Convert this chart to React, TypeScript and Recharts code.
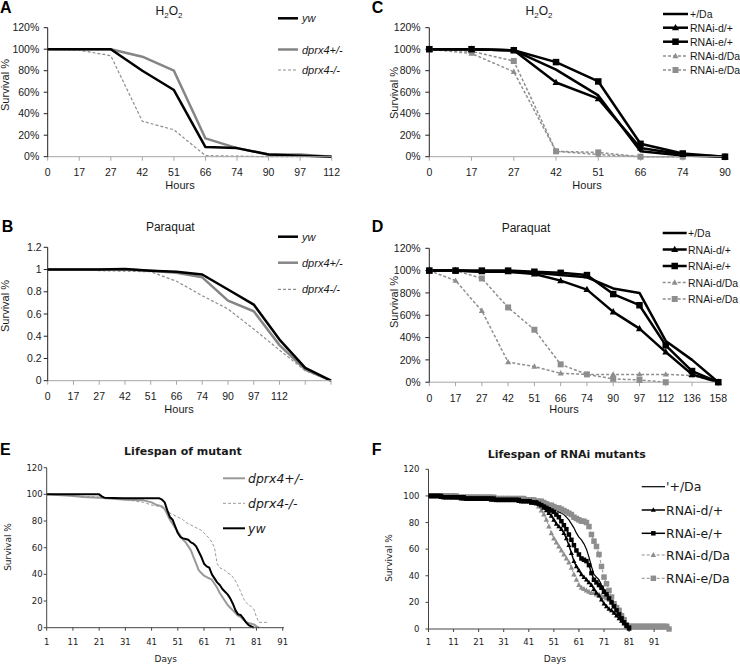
import React from 'react';
import { LineChart, Line, XAxis, YAxis } from 'recharts';

const FONT = '"Liberation Sans", Arial, sans-serif';
const FONT2 = '"DejaVu Sans", Verdana, sans-serif';

// ---------- Panel A (H2O2, mutants) ----------
const hoursA = ['0', '17', '27', '42', '51', '66', '74', '90', '97', '112'];
const aYw = [100, 100, 100, 80, 62, 9, 8, 2, 1, 0];
const aHet = [100, 100, 100, 93, 80, 17, 8, 2, 2, 0];
const aHom = [100, 99, 94, 33, 25, 1, 0.5, 0, 0, 0];

// ---------- Panel B (Paraquat, mutants) ----------
const hoursB = ['0', '17', '27', '42', '51', '66', '74', '90', '97', '112', '', ''];
const bYw = [1, 1, 1, 1.005, 0.99, 0.98, 0.955, 0.82, 0.685, 0.37, 0.115, 0];
const bHet = [1, 1, 1, 1, 0.99, 0.97, 0.93, 0.72, 0.625, 0.32, 0.1, 0];
const bHom = [1, 1, 0.99, 0.985, 0.98, 0.895, 0.765, 0.645, 0.465, 0.275, 0.09, 0];
const bTicks = [0, 0.2, 0.4, 0.6, 0.8, 1, 1.2];
const bTickLabels = ['0', '0.2', '0.4', '0.6', '0.8', '1', '1.2'];

// ---------- Panel C (H2O2, RNAi) ----------
const hoursC = ['0', '17', '27', '42', '51', '66', '74', '90'];
const cPlusDa = [100, 100, 99, 81, 57, 5, 1, 0];
const cDPlus = [100, 100, 99, 69, 54, 8, 2, 0];
const cEPlus = [100, 100, 99, 88, 70, 12, 3, 0];
const cDDa = [100, 96, 79, 5, 2, 0, 0, null];
const cEDa = [100, 98, 89, 5, 4, 0, 0, null];

// ---------- Panel D (Paraquat, RNAi) ----------
const hoursD = ['0', '17', '27', '42', '51', '66', '74', '90', '97', '112', '136', '158'];
const dPlusDa = [100, 100, 99, 99, 98, 96, 94, 84, 80, 37, 20, 0];
const dDPlus = [100, 100, 99, 99, 97, 91, 83, 63, 48, 27, 7, 0];
const dEPlus = [100, 100, 100, 100, 99, 98, 96, 79, 69, 33, 10, 0];
const dDDa = [100, 91, 64, 18, 14, 8, 7, 7, 7, 7, 6, 0];
const dEDa = [100, 100, 93, 67, 47, 16, 7, 3, 2, 0, null, null];

const pctTicks = [0, 20, 40, 60, 80, 100, 120];
const pctTickLabels = ['0%', '20%', '40%', '60%', '80%', '100%', '120%'];

// ---------- Panel E (lifespan of mutant) ----------
const eYwDays = [1, 21, 22, 23, 30, 44, 45, 46, 47, 48, 49, 50, 51, 52, 53, 54, 55, 56, 57, 58, 59, 60, 61, 62, 63, 64, 65, 66, 67, 68, 69, 70, 71, 72, 73, 74, 75, 76, 77, 78, 79, 80];
const eYwVals = [100, 100, 98.5, 97.5, 97, 97, 96, 94, 88, 83, 81, 76, 71, 68, 67, 66.5, 66, 64, 63, 61, 57, 53, 48, 46, 45, 40, 37, 34, 32, 29, 27, 25, 22, 18, 13, 10, 9.5, 7, 4, 2, 1, 0];
const eHetDays = [1, 5, 10, 15, 21, 31, 38, 41, 43, 45, 46, 47, 48, 49, 50, 51, 52, 53, 54, 55, 56, 57, 58, 59, 60, 61, 62, 63, 64, 65, 66, 67, 68, 69, 70, 71, 72, 73, 74, 75, 76, 77, 78, 79, 80, 81, 82];
const eHetVals = [100, 99.5, 99, 98, 97.5, 96, 95.5, 94, 92, 91, 89, 85, 81, 78, 75, 72, 69, 66, 64, 61, 58, 53, 48, 43, 41, 39, 38, 37, 36, 33, 30, 26, 23, 20, 17, 15, 13, 11, 9, 8, 6, 4.5, 3.5, 3, 2.5, 1, 0];
const eHomDays = [1, 10, 21, 31, 38, 41, 44, 45, 46, 47, 48, 49, 50, 51, 52, 53, 54, 55, 56, 57, 58, 59, 60, 61, 62, 63, 64, 65, 66, 67, 68, 69, 70, 71, 72, 73, 74, 75, 76, 77, 78, 79, 80, 81, 82, 85];
const eHomVals = [100, 99, 98, 96, 94, 92, 91, 90, 88, 87, 86, 85, 84, 83, 82, 81, 79, 78, 77, 76, 75, 74, 73, 71, 69, 67, 64, 60, 48, 45, 44, 43, 41, 40, 38, 35, 31, 27, 22, 19, 17, 16, 14, 8, 4, 4];
const dayTicks = [1, 11, 21, 31, 41, 51, 61, 71, 81, 91];

// ---------- Panel F (lifespan of RNAi mutants), one value per day from day 1 ----------
const fPlusDa = [100, 100, 100, 100, 100, 100, 100, 99, 99, 99,
  99, 99, 99, 99, 99, 99, 98, 98, 98, 98,
  98, 98, 98, 98, 98, 98, 98, 98, 98, 97,
  97, 97, 97, 97, 97, 97, 97, 97, 97, 96,
  96, 96, 95, 95, 95, 94, 93, 93, 92, 91,
  90, 89, 88, 87, 86, 84, 82, 79, 76, 72,
  69, 67, 64, 60, 54, 47, 41, 39, 37, 33,
  30, 27, 25, 22, 19, 16, 13, 9, 6, 3,
  1, 1, 1, 1, 1, 1, 1, 1, 1, 1,
  1, 1, 1, 1, 1, 1, 1];
const fDPlus = [100, 100, 100, 100, 100, 99, 99, 99, 99, 99,
  99, 99, 99, 98, 98, 98, 98, 98, 98, 98,
  98, 98, 98, 98, 98, 97, 97, 97, 97, 97,
  97, 97, 97, 97, 97, 97, 96, 96, 96, 96,
  96, 96, 95, 95, 94, 93, 91, 89, 87, 85,
  82, 79, 77, 75, 72, 68, 63, 57, 51, 47,
  44, 41, 39, 37, 35, 33, 30, 27, 25, 22,
  19, 17, 15, 14, 12, 10, 8, 6, 4, 2,
  0];
const fEPlus = [100, 100, 100, 100, 100, 100, 99, 99, 99, 99,
  99, 99, 99, 99, 99, 98, 98, 98, 98, 98,
  98, 98, 98, 98, 98, 98, 98, 97, 97, 97,
  97, 97, 97, 97, 97, 97, 97, 96, 96, 96,
  96, 95, 95, 95, 94, 93, 92, 91, 90, 89,
  88, 86, 84, 81, 78, 75, 71, 67, 63, 59,
  56, 53, 52, 51, 48, 42, 37, 35, 33, 31,
  28, 26, 23, 20, 17, 14, 11, 8, 5, 3,
  1];
const fDDa = [100, 100, 100, 100, 100, 100, 100, 100, 100, 99,
  99, 99, 99, 99, 99, 99, 99, 99, 99, 99,
  98, 98, 98, 98, 98, 98, 98, 98, 98, 98,
  98, 98, 98, 97, 97, 97, 97, 97, 97, 97,
  96, 96, 95, 94, 92, 89, 86, 82, 77, 72,
  68, 65, 62, 59, 56, 53, 50, 46, 41, 37,
  33, 31, 30, 29, 28, 27, 27, 26, 26, 25,
  24, 23, 22, 20, 18, 17, 14, 11, 7, 3,
  1];
const fEDa = [100, 100, 100, 100, 100, 100, 100, 100, 100, 100,
  100, 100, 99, 99, 99, 99, 99, 99, 99, 99,
  99, 99, 99, 99, 99, 99, 99, 98, 98, 98,
  98, 98, 98, 98, 98, 98, 98, 98, 98, 97,
  97, 97, 97, 96, 96, 96, 95, 94, 93, 93,
  92, 91, 91, 90, 89, 88, 87, 86, 84, 83,
  82, 81, 81, 80, 77, 71, 66, 62, 56, 47,
  39, 34, 29, 24, 19, 16, 14, 10, 7, 3,
  2, 2, 2, 2, 2, 2, 2, 2, 2, 2,
  2, 2, 2, 2, 2, 2, 0];
const fDays = fEDa.map((_, i) => i + 1);

// ---------- tables built from the arrays ----------
const dataA = hoursA.map((h, i) => ({ h, yw: aYw[i], het: aHet[i], hom: aHom[i] }));
const dataB = hoursB.map((h, i) => ({ h, yw: bYw[i], het: bHet[i], hom: bHom[i] }));
const dataC = hoursC.map((h, i) => ({ h, plus: cPlusDa[i], dplus: cDPlus[i], eplus: cEPlus[i], dda: cDDa[i], eda: cEDa[i] }));
const dataD = hoursD.map((h, i) => ({ h, plus: dPlusDa[i], dplus: dDPlus[i], eplus: dEPlus[i], dda: dDDa[i], eda: dEDa[i] }));
const pairs = (ds: number[], vs: number[]) => ds.map((d, i) => ({ d, v: vs[i] }));
const dataF = fDays.map((d, i) => ({
  d,
  plus: fPlusDa[i] ?? null,
  dplus: fDPlus[i] ?? null,
  eplus: fEPlus[i] ?? null,
  dda: fDDa[i] ?? null,
  eda: fEDa[i] ?? null,
}));

// ---------- styling helpers ----------
const GRAY = '#858585';
const GRAY2 = '#8e8e8e';

type Shape = 'tri' | 'sq';
const dotFn = (shape: Shape, s: number, fill: string) => (p: any) => {
  const { cx, cy, index } = p;
  const k = `${shape}-${s}-${index}`;
  if (cx == null || cy == null || !isFinite(cx) || !isFinite(cy)) return <g key={k} />;
  if (shape === 'sq') return <rect key={k} x={cx - s / 2} y={cy - s / 2} width={s} height={s} fill={fill} />;
  const h = s * 0.9;
  return <path key={k} d={`M${cx},${cy - h * 0.6}L${cx + s / 2},${cy + h * 0.4}L${cx - s / 2},${cy + h * 0.4}Z`} fill={fill} />;
};

const frame = (L: number, T: number, W: number, H: number, x0: number, x1: number, y0: number, y1: number, xh: number) => ({
  margin: { top: y0 - T, right: L + W - x1, bottom: T + H - y1 - xh, left: 0 },
  yw: x0 - L,
});

const tickA = { fontSize: 10.5, fill: '#1a1a1a', fontFamily: FONT };
const tickE = { fontSize: 8.5, fill: '#1a1a1a', fontFamily: FONT2 };

const fA = frame(0, 0, 370, 200, 47.7, 331.7, 27.7, 156.7, 30);
const fB = frame(0, 200, 370, 220, 47.7, 331, 247.3, 380.7, 30);
const fC = frame(370, 0, 370, 200, 429.3, 725, 27.7, 156.7, 30);
const fD = frame(370, 200, 370, 220, 429.3, 718.3, 248.3, 382.2, 30);
const fE = frame(0, 440, 370, 225, 46.7, 284, 467.7, 627.7, 25);
const fF = frame(370, 440, 370, 225, 428.5, 671.7, 469.3, 629, 25);

const pos = (L: number, T: number): React.CSSProperties => ({ position: 'absolute', left: L, top: T });

// ---------- overlay (titles, legends, labels) ----------
function LegRow(props: { x1: number; x2: number; y: number; stroke: string; w: number; dash?: string; shape?: Shape; ms?: number; mfill?: string; label: string; tx: number; font: string; size: number; italic?: boolean; }) {
  const { x1, x2, y, stroke, w, dash, shape, ms, mfill, label, tx, font, size, italic } = props;
  const cx = (x1 + x2) / 2;
  const d = shape ? dotFn(shape, ms || 6, mfill || stroke)({ cx, cy: y, index: 0 }) : null;
  return (
    <g>
      <line x1={x1} x2={x2} y1={y} y2={y} stroke={stroke} strokeWidth={w} strokeDasharray={dash} />
      {d}
      <text x={tx} y={y} dominantBaseline="central" fontFamily={font} fontSize={size} fontStyle={italic ? 'italic' : 'normal'} fill="#1a1a1a">{label}</text>
    </g>
  );
}

function H2O2({ x, y }: { x: number; y: number }) {
  return (
    <text x={x} y={y} textAnchor="middle" fontFamily={FONT} fontSize={12} fill="#1a1a1a">
      <tspan>H</tspan><tspan fontSize={8} dy={3}>2</tspan><tspan dy={-3}>O</tspan><tspan fontSize={8} dy={3}>2</tspan>
    </text>
  );
}

function Overlay() {
  const letter = { fontFamily: FONT, fontSize: 16, fontWeight: 700, fill: '#000' } as const;
  const lab = { fontFamily: FONT, fontSize: 11, fill: '#1a1a1a' } as const;
  const lab2 = { fontFamily: FONT2, fontSize: 9, fill: '#1a1a1a' } as const;
  return (
    <svg width={740} height={665} style={{ position: 'absolute', left: 0, top: 0, pointerEvents: 'none' }}>
      <text x={0} y={13.3} {...letter}>A</text>
      <text x={371.7} y={12.7} {...letter}>C</text>
      <text x={1.7} y={231.7} {...letter}>B</text>
      <text x={371.7} y={232.3} {...letter}>D</text>
      <text x={0} y={455} {...letter}>E</text>
      <text x={371.7} y={455} {...letter}>F</text>

      <H2O2 x={169} y={14.8} />
      <H2O2 x={539} y={14.8} />
      <text x={170.3} y={231} textAnchor="middle" fontFamily={FONT} fontSize={12} fill="#1a1a1a">Paraquat</text>
      <text x={526} y={232} textAnchor="middle" fontFamily={FONT} fontSize={12} fill="#1a1a1a">Paraquat</text>
      <text x={183} y={455} textAnchor="middle" fontFamily={FONT2} fontSize={11} fontWeight={700} fill="#1a1a1a">Lifespan of mutant</text>
      <text x={566.7} y={458} textAnchor="middle" fontFamily={FONT2} fontSize={11} fontWeight={700} fill="#1a1a1a">Lifespan of RNAi mutants</text>

      <text x={180} y={189} textAnchor="middle" {...lab}>Hours</text>
      <text x={587} y={189} textAnchor="middle" {...lab}>Hours</text>
      <text x={179} y={413} textAnchor="middle" {...lab}>Hours</text>
      <text x={564} y={413} textAnchor="middle" {...lab}>Hours</text>
      <text x={165.7} y={662} textAnchor="middle" {...lab2}>Days</text>
      <text x={555} y={662} textAnchor="middle" {...lab2}>Days</text>

      <text transform="translate(9,85) rotate(-90)" textAnchor="middle" {...lab}>Survival %</text>
      <text transform="translate(9,306) rotate(-90)" textAnchor="middle" {...lab}>Survival %</text>
      <text transform="translate(398,93) rotate(-90)" textAnchor="middle" {...lab}>Survival %</text>
      <text transform="translate(398,302) rotate(-90)" textAnchor="middle" {...lab}>Survival %</text>
      <text transform="translate(10.5,547) rotate(-90)" textAnchor="middle" {...lab2}>Survival %</text>
      <text transform="translate(392,558) rotate(-90)" textAnchor="middle" {...lab2}>Survival %</text>

      {/* legend A */}
      <LegRow x1={278} x2={298} y={18.3} stroke="#000" w={2.5} label="yw" tx={302} font={FONT} size={11} italic />
      <LegRow x1={278} x2={298} y={49.5} stroke={GRAY} w={2.5} label="dprx4+/-" tx={302} font={FONT} size={11} italic />
      <LegRow x1={278} x2={298} y={70} stroke={GRAY2} w={1.2} dash="3 2" label="dprx4-/-" tx={302} font={FONT} size={11} italic />
      {/* legend B */}
      <LegRow x1={278} x2={298} y={236.7} stroke="#000" w={2.5} label="yw" tx={302} font={FONT} size={11} italic />
      <LegRow x1={278} x2={298} y={262.7} stroke={GRAY} w={2.5} label="dprx4+/-" tx={302} font={FONT} size={11} italic />
      <LegRow x1={278} x2={298} y={289.3} stroke={GRAY2} w={1.2} dash="3 2" label="dprx4-/-" tx={302} font={FONT} size={11} italic />
      {/* legend C */}
      <LegRow x1={663} x2={688} y={14} stroke="#000" w={2.5} label="+/Da" tx={690} font={FONT} size={10.5} />
      <LegRow x1={663} x2={688} y={27.7} stroke="#000" w={2.5} shape="tri" ms={7} label="RNAi-d/+" tx={690} font={FONT} size={10.5} />
      <LegRow x1={663} x2={688} y={41.7} stroke="#000" w={2.5} shape="sq" ms={6.5} label="RNAi-e/+" tx={690} font={FONT} size={10.5} />
      <LegRow x1={663} x2={688} y={56} stroke={GRAY2} w={1.5} dash="3 2" shape="tri" ms={6} label="RNAi-d/Da" tx={690} font={FONT} size={10.5} />
      <LegRow x1={663} x2={688} y={70} stroke={GRAY2} w={1.5} dash="3 2" shape="sq" ms={6} label="RNAi-e/Da" tx={690} font={FONT} size={10.5} />
      {/* legend D */}
      <LegRow x1={662.7} x2={686.7} y={233} stroke="#000" w={2.5} label="+/Da" tx={688} font={FONT} size={10.5} />
      <LegRow x1={662.7} x2={686.7} y={249.5} stroke="#000" w={2.5} shape="tri" ms={7} label="RNAi-d/+" tx={688} font={FONT} size={10.5} />
      <LegRow x1={662.7} x2={686.7} y={266} stroke="#000" w={2.5} shape="sq" ms={6.5} label="RNAi-e/+" tx={688} font={FONT} size={10.5} />
      <LegRow x1={662.7} x2={686.7} y={282.5} stroke={GRAY2} w={1.5} dash="3 2" shape="tri" ms={6} label="RNAi-d/Da" tx={688} font={FONT} size={10.5} />
      <LegRow x1={662.7} x2={686.7} y={299} stroke={GRAY2} w={1.5} dash="3 2" shape="sq" ms={6} label="RNAi-e/Da" tx={688} font={FONT} size={10.5} />
      {/* legend E */}
      <LegRow x1={223} x2={245} y={478.3} stroke="#999" w={2} label="dprx4+/-" tx={248} font={FONT2} size={12.5} italic />
      <LegRow x1={223} x2={245} y={503.3} stroke="#999" w={1} dash="3 2" label="dprx4-/-" tx={248} font={FONT2} size={12.5} italic />
      <LegRow x1={223} x2={245} y={528.3} stroke="#000" w={2} label="yw" tx={248} font={FONT2} size={12.5} italic />
      {/* legend F */}
      <LegRow x1={641.7} x2={665} y={486.7} stroke="#000" w={1.2} label="'+/Da" tx={666} font={FONT2} size={12.5} />
      <LegRow x1={641.7} x2={665} y={510} stroke="#000" w={1.5} shape="tri" ms={5} label="RNAi-d/+" tx={666} font={FONT2} size={12.5} />
      <LegRow x1={641.7} x2={665} y={533.3} stroke="#000" w={1.5} shape="sq" ms={4.5} label="RNAi-e/+" tx={666} font={FONT2} size={12.5} />
      <LegRow x1={641.7} x2={665} y={555} stroke={GRAY2} w={1} dash="3 2" shape="tri" ms={5.5} label="RNAi-d/Da" tx={666} font={FONT2} size={12.5} />
      <LegRow x1={641.7} x2={665} y={578.3} stroke={GRAY2} w={1} dash="3 2" shape="sq" ms={5.5} label="RNAi-e/Da" tx={666} font={FONT2} size={12.5} />
    </svg>
  );
}

export default function App() {
  const common = { isAnimationActive: false, strokeLinejoin: 'round' as const, activeDot: false as const };
  return (
    <div style={{ position: 'absolute', left: 0, top: 0, width: 740, height: 665, background: '#fff', overflow: 'hidden' }}>
      {/* A */}
      <div style={pos(0, 0)}>
        <LineChart width={370} height={200} data={dataA} margin={fA.margin}>
          <XAxis dataKey="h" interval={0} height={30} tickSize={4} tickMargin={8} tick={tickA} axisLine={{ stroke: '#a6a6a6' }} tickLine={{ stroke: '#a6a6a6' }} />
          <YAxis width={fA.yw} domain={[0, 120]} ticks={pctTicks} interval={0} tickFormatter={(v: number, i: number) => pctTickLabels[i]} tickSize={4} tickMargin={4.4} tick={tickA} axisLine={{ stroke: '#222' }} tickLine={{ stroke: '#222' }} />
          <Line dataKey="hom" stroke={GRAY2} strokeWidth={1.2} strokeDasharray="3 2" dot={false} {...common} />
          <Line dataKey="het" stroke={GRAY} strokeWidth={2.5} dot={false} {...common} />
          <Line dataKey="yw" stroke="#000" strokeWidth={2.5} dot={false} {...common} />
        </LineChart>
      </div>
      {/* B */}
      <div style={pos(0, 200)}>
        <LineChart width={370} height={220} data={dataB} margin={fB.margin}>
          <XAxis dataKey="h" interval={0} height={30} tickSize={4} tickMargin={8} tick={tickA} axisLine={{ stroke: '#a6a6a6' }} tickLine={{ stroke: '#a6a6a6' }} />
          <YAxis width={fB.yw} domain={[0, 1.2]} ticks={bTicks} interval={0} tickFormatter={(v: number, i: number) => bTickLabels[i]} tickSize={4} tickMargin={2} tick={tickA} axisLine={{ stroke: '#222' }} tickLine={{ stroke: '#222' }} />
          <Line dataKey="hom" stroke={GRAY2} strokeWidth={1.2} strokeDasharray="3 2" dot={false} {...common} />
          <Line dataKey="het" stroke={GRAY} strokeWidth={2.5} dot={false} {...common} />
          <Line dataKey="yw" stroke="#000" strokeWidth={2.5} dot={false} {...common} />
        </LineChart>
      </div>
      {/* C */}
      <div style={pos(370, 0)}>
        <LineChart width={370} height={200} data={dataC} margin={fC.margin}>
          <XAxis dataKey="h" interval={0} height={30} tickSize={4} tickMargin={8} tick={tickA} axisLine={{ stroke: '#a6a6a6' }} tickLine={{ stroke: '#a6a6a6' }} />
          <YAxis width={fC.yw} domain={[0, 120]} ticks={pctTicks} interval={0} tickFormatter={(v: number, i: number) => pctTickLabels[i]} tickSize={4} tickMargin={4.6} tick={tickA} axisLine={{ stroke: '#222' }} tickLine={{ stroke: '#222' }} />
          <Line dataKey="dda" stroke={GRAY2} strokeWidth={1.5} strokeDasharray="3 2" dot={dotFn('tri', 6, GRAY2)} {...common} />
          <Line dataKey="eda" stroke={GRAY2} strokeWidth={1.5} strokeDasharray="3 2" dot={dotFn('sq', 6, GRAY2)} {...common} />
          <Line dataKey="plus" stroke="#000" strokeWidth={2.5} dot={false} {...common} />
          <Line dataKey="dplus" stroke="#000" strokeWidth={2.5} dot={dotFn('tri', 7, '#000')} {...common} />
          <Line dataKey="eplus" stroke="#000" strokeWidth={2.5} dot={dotFn('sq', 6.5, '#000')} {...common} />
        </LineChart>
      </div>
      {/* D */}
      <div style={pos(370, 200)}>
        <LineChart width={370} height={220} data={dataD} margin={fD.margin}>
          <XAxis dataKey="h" interval={0} height={30} tickSize={4} tickMargin={8} tick={tickA} axisLine={{ stroke: '#a6a6a6' }} tickLine={{ stroke: '#a6a6a6' }} />
          <YAxis width={fD.yw} domain={[0, 120]} ticks={pctTicks} interval={0} tickFormatter={(v: number, i: number) => pctTickLabels[i]} tickSize={4} tickMargin={4.6} tick={tickA} axisLine={{ stroke: '#222' }} tickLine={{ stroke: '#222' }} />
          <Line dataKey="dda" stroke={GRAY2} strokeWidth={1.5} strokeDasharray="3 2" dot={dotFn('tri', 6, GRAY2)} {...common} />
          <Line dataKey="eda" stroke={GRAY2} strokeWidth={1.5} strokeDasharray="3 2" dot={dotFn('sq', 6, GRAY2)} {...common} />
          <Line dataKey="plus" stroke="#000" strokeWidth={2.5} dot={false} {...common} />
          <Line dataKey="dplus" stroke="#000" strokeWidth={2.5} dot={dotFn('tri', 7, '#000')} {...common} />
          <Line dataKey="eplus" stroke="#000" strokeWidth={2.5} dot={dotFn('sq', 6.5, '#000')} {...common} />
        </LineChart>
      </div>
      {/* E */}
      <div style={pos(0, 440)}>
        <LineChart width={370} height={225} margin={fE.margin}>
          <XAxis dataKey="d" type="number" domain={[1, 91.5]} allowDataOverflow ticks={dayTicks} interval={0} height={25} tickSize={3} tickMargin={8.6} tick={tickE} axisLine={{ stroke: '#444' }} tickLine={{ stroke: '#444' }} />
          <YAxis width={fE.yw} domain={[0, 120]} ticks={pctTicks} interval={0} tickSize={3} tickMargin={1} tick={tickE} axisLine={{ stroke: '#444' }} tickLine={{ stroke: '#444' }} />
          <Line data={pairs(eHomDays, eHomVals)} dataKey="v" stroke="#999" strokeWidth={1} strokeDasharray="3 2" dot={false} {...common} />
          <Line data={pairs(eHetDays, eHetVals)} dataKey="v" stroke="#999" strokeWidth={2} dot={false} {...common} />
          <Line data={pairs(eYwDays, eYwVals)} dataKey="v" stroke="#000" strokeWidth={2} dot={false} {...common} />
        </LineChart>
      </div>
      {/* F */}
      <div style={pos(370, 440)}>
        <LineChart width={370} height={225} data={dataF} margin={fF.margin}>
          <XAxis dataKey="d" type="number" domain={[1, 98]} allowDataOverflow ticks={dayTicks} interval={0} height={25} tickSize={3} tickMargin={7.3} tick={tickE} axisLine={{ stroke: '#444' }} tickLine={{ stroke: '#444' }} />
          <YAxis width={fF.yw} domain={[0, 120]} ticks={pctTicks} interval={0} tickSize={3} tickMargin={6} tick={tickE} axisLine={{ stroke: '#444' }} tickLine={{ stroke: '#444' }} />
          <Line dataKey="eda" stroke={GRAY2} strokeWidth={1} strokeDasharray="3 2" dot={dotFn('sq', 5.5, GRAY2)} {...common} />
          <Line dataKey="dda" stroke={GRAY2} strokeWidth={1} strokeDasharray="3 2" dot={dotFn('tri', 5.5, GRAY2)} {...common} />
          <Line dataKey="plus" stroke="#000" strokeWidth={1.2} dot={false} {...common} />
          <Line dataKey="dplus" stroke="#000" strokeWidth={1.5} dot={dotFn('tri', 5, '#000')} {...common} />
          <Line dataKey="eplus" stroke="#000" strokeWidth={1.5} dot={dotFn('sq', 4.5, '#000')} {...common} />
        </LineChart>
      </div>
      <Overlay />
    </div>
  );
}
